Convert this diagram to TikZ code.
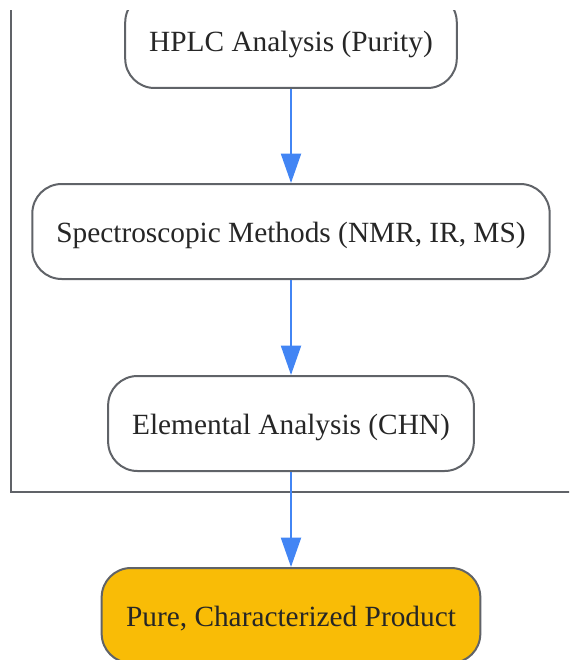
\documentclass[tikz,border=0pt]{standalone}
\usepackage{fontspec}
\setmainfont{Liberation Serif}
\usetikzlibrary{arrows.meta}
\definecolor{boxline}{HTML}{606368}
\definecolor{flowblue}{HTML}{4285F4}
\definecolor{productfill}{HTML}{F9BC06}
\tikzset{
	stepbox/.style={draw=boxline, line width=1.5pt, rounded corners=22pt, fill=white,
		minimum height=71.25pt, inner xsep=18pt, text height=17pt, text depth=0pt,
		font=\fontsize{22}{26}\selectfont, text=black!85},
	flow/.style={draw=flowblue, line width=1.5pt, -{Triangle[width=15pt,length=22pt]}}
}
\begin{document}
\begin{tikzpicture}[x=0.75pt,y=-0.75pt]
		\useasboundingbox (0,0) rectangle (569,660);
		\clip (0,11) rectangle (569,660);
		
		% container
		\draw[boxline, line width=1.5pt] (11,-20) -- (11,492) -- (600,492);
		
		\node (hplc) at (291,40.5) [stepbox, minimum width=244pt] {HPLC Analysis (Purity)};
		\node (spec) at (291,231.5) [stepbox, minimum width=388pt] {Spectroscopic Methods (NMR, IR, MS)};
		\node (chn) at (291,423.5) [stepbox, minimum width=273pt] {Elemental Analysis (CHN)};
		\node (pure) at (291,615.5) [stepbox, fill=productfill, minimum width=284pt] {Pure, Characterized Product};
		
		\draw[flow] (hplc) -- (spec);
		\draw[flow] (spec) -- (chn);
		\draw[flow] (chn) -- (pure);
	\end{tikzpicture}
\end{document}
